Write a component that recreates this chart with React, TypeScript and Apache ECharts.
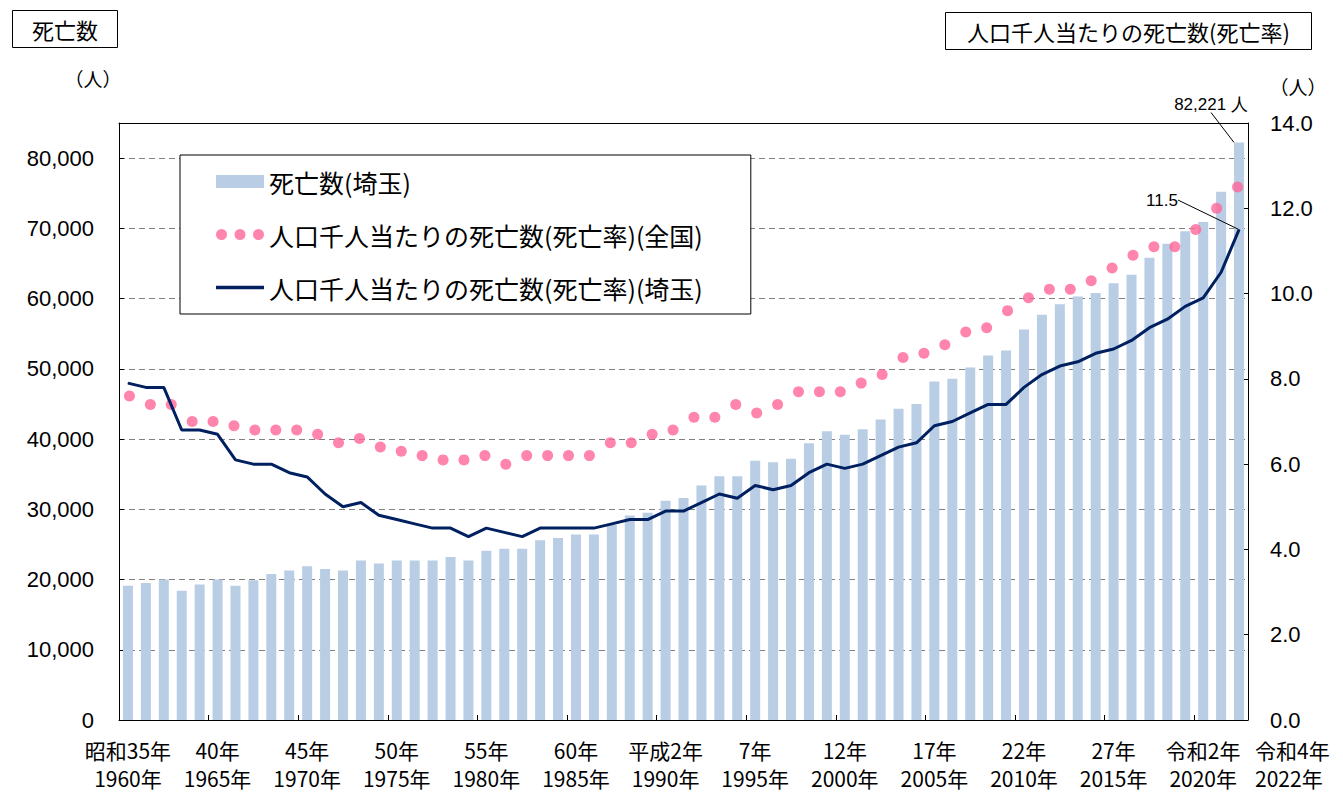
import React, { useEffect, useRef } from "react";
import * as echarts from "echarts";

// ---- Data ----
const years: string[] = [
  "1960", "1961", "1962", "1963", "1964", "1965", "1966", "1967", "1968", "1969",
  "1970", "1971", "1972", "1973", "1974", "1975", "1976", "1977", "1978", "1979",
  "1980", "1981", "1982", "1983", "1984", "1985", "1986", "1987", "1988", "1989",
  "1990", "1991", "1992", "1993", "1994", "1995", "1996", "1997", "1998", "1999",
  "2000", "2001", "2002", "2003", "2004", "2005", "2006", "2007", "2008", "2009",
  "2010", "2011", "2012", "2013", "2014", "2015", "2016", "2017", "2018", "2019",
  "2020", "2021", "2022",
];

// 死亡数(埼玉)
const deathsSaitama: number[] = [
  19100, 19500, 20000, 18400, 19300, 20000, 19100, 19900, 20800, 21300,
  21900, 21500, 21300, 22700, 22300, 22700, 22700, 22700, 23200, 22700,
  24100, 24400, 24400, 25600, 25900, 26400, 26400, 27800, 29100, 29500,
  31200, 31600, 33400, 34700, 34700, 36900, 36700, 37200, 39400, 41100,
  40600, 41400, 42800, 44300, 45000, 48200, 48600, 50200, 51900, 52600,
  55600, 57700, 59200, 60300, 60800, 62200, 63400, 65800, 67800, 69600,
  70900, 75200, 82221,
];

// 人口千人当たりの死亡数(死亡率)(埼玉)
const rateSaitama: number[] = [
  7.9, 7.8, 7.8, 6.8, 6.8, 6.7, 6.1, 6.0, 6.0, 5.8,
  5.7, 5.3, 5.0, 5.1, 4.8, 4.7, 4.6, 4.5, 4.5, 4.3,
  4.5, 4.4, 4.3, 4.5, 4.5, 4.5, 4.5, 4.6, 4.7, 4.7,
  4.9, 4.9, 5.1, 5.3, 5.2, 5.5, 5.4, 5.5, 5.8, 6.0,
  5.9, 6.0, 6.2, 6.4, 6.5, 6.9, 7.0, 7.2, 7.4, 7.4,
  7.8, 8.1, 8.3, 8.4, 8.6, 8.7, 8.9, 9.2, 9.4, 9.7,
  9.9, 10.5, 11.5,
];

// 人口千人当たりの死亡数(死亡率)(全国) — dots as drawn in the original
const rateNational: number[] = [
  7.6, 7.4, 7.4, 7.0, 7.0, 6.9, 6.8, 6.8, 6.8, 6.7,
  6.5, 6.6, 6.4, 6.3, 6.2, 6.1, 6.1, 6.2, 6.0, 6.2,
  6.2, 6.2, 6.2, 6.5, 6.5, 6.7, 6.8, 7.1, 7.1, 7.4,
  7.2, 7.4, 7.7, 7.7, 7.7, 7.9, 8.1, 8.5, 8.6, 8.8,
  9.1, 9.2, 9.6, 9.9, 10.1, 10.1, 10.3, 10.6, 10.9, 11.1,
  11.1, 11.5, 12.0, 12.5,
];

// Tick labels
const tickYears: string[] = [
  "1960", "1965", "1970", "1975", "1980", "1985", "1990",
  "1995", "2000", "2005", "2010", "2015", "2020", "2022",
];
const eraLabels: string[] = [
  "昭和35年", "40年", "45年", "50年", "55年", "60年", "平成2年",
  "7年", "12年", "17年", "22年", "27年", "令和2年", "令和4年",
];

const NAME_BAR = "死亡数(埼玉)";
const NAME_NAT = "人口千人当たりの死亡数(死亡率)(全国)";
const NAME_SAI = "人口千人当たりの死亡数(死亡率)(埼玉)";

const FONT_JP = '"Noto Sans CJK JP", "Noto Sans", sans-serif';
const FONT_NUM = '"Liberation Sans", Arial, sans-serif';

const BAR_COLOR = "#B9CDE5";
const DOT_COLOR = "#FF6699";
const LINE_COLOR = "#002060";

const dotsIcon =
  "path://M0,5.5a5.5,5.5 0 1,0 11,0a5.5,5.5 0 1,0 -11,0Z" +
  "M18.5,5.5a5.5,5.5 0 1,0 11,0a5.5,5.5 0 1,0 -11,0Z" +
  "M37,5.5a5.5,5.5 0 1,0 11,0a5.5,5.5 0 1,0 -11,0Z";
const lineIcon = "path://M0,0L48,0L48,3.4L0,3.4Z";

export default function App() {
  const ref = useRef<HTMLDivElement>(null);

  useEffect(() => {
    if (!ref.current) return;
    const chart = echarts.init(ref.current, null, { renderer: "svg" });
    const lastIdx = years.length - 1;
    const lastYear = years[lastIdx];

    const labelText = (v: string) => {
      const k = tickYears.indexOf(v);
      return k >= 0 ? `${eraLabels[k]}\n${v}年` : "";
    };
    const labelBase = {
      formatter: labelText,
      fontSize: 21,
      lineHeight: 28,
      margin: 16,
      color: "#000",
      fontFamily: FONT_JP,
    };

    const option: any = {
      animation: false,
      backgroundColor: "#ffffff",
      textStyle: { fontFamily: FONT_JP, color: "#000" },
      title: [
        {
          text: "死亡数",
          left: 12,
          top: 10,
          padding: [8, 20, 8, 20],
          borderColor: "#000",
          borderWidth: 1,
          textStyle: { fontSize: 22, fontWeight: "normal", color: "#000", fontFamily: FONT_JP },
        },
        {
          text: "人口千人当たりの死亡数(死亡率)",
          left: 945,
          top: 12,
          padding: [8, 22, 8, 22],
          borderColor: "#000",
          borderWidth: 1,
          textStyle: { fontSize: 22, fontWeight: "normal", color: "#000", fontFamily: FONT_JP },
        },
      ],
      legend: {
        left: 180,
        top: 155,
        orient: "vertical",
        padding: [14, 48, 14, 36],
        itemGap: 28,
        itemWidth: 48,
        itemHeight: 13,
        borderColor: "#000",
        borderWidth: 1,
        backgroundColor: "#fff",
        textStyle: { fontSize: 25, color: "#000", fontFamily: FONT_JP },
        data: [
          { name: NAME_BAR, icon: "rect" },
          { name: NAME_NAT, icon: dotsIcon },
          { name: NAME_SAI, icon: lineIcon },
        ],
      },
      grid: { left: 119, right: 95, top: 123, bottom: 73 },
      xAxis: [
        {
          type: "category",
          position: "bottom",
          boundaryGap: true,
          data: years,
          axisLine: { show: true, lineStyle: { color: "#000", width: 1 } },
          axisTick: {
            show: true,
            inside: true,
            length: 5,
            interval: (i: number) => i % 5 === 0,
            lineStyle: { color: "#000" },
          },
          axisLabel: {
            ...labelBase,
            interval: (_i: number, v: string) => v !== lastYear && tickYears.indexOf(v) >= 0,
          },
          splitLine: { show: false },
        },
        {
          type: "category",
          position: "top",
          boundaryGap: true,
          data: rateNational.map((_v, i) => String(i)),
          axisLine: { show: true, onZero: false, lineStyle: { color: "#000", width: 1 } },
          axisTick: { show: false },
          axisLabel: { show: false },
          splitLine: { show: false },
        },
        {
          // carries only the final year's label, placed just right of its bar
          type: "category",
          position: "bottom",
          boundaryGap: true,
          data: years.map((y) =>
            y === lastYear
              ? { value: y, textStyle: { align: "left", padding: [0, 0, 0, 16] } }
              : y
          ),
          axisLine: { show: false },
          axisTick: { show: false },
          axisLabel: {
            ...labelBase,
            interval: (_i: number, v: string) => v === lastYear,
          },
          splitLine: { show: false },
        },
      ],
      yAxis: [
        {
          type: "value",
          position: "left",
          min: 0,
          max: 85000,
          interval: 10000,
          name: "（人）",
          nameLocation: "end",
          nameGap: 35,
          nameTextStyle: { fontSize: 19, color: "#000", fontFamily: FONT_JP, padding: [0, 52, 0, 0] },
          axisLine: { show: true, lineStyle: { color: "#000", width: 1 } },
          axisTick: { show: true, inside: true, length: 5, lineStyle: { color: "#000" } },
          axisLabel: {
            showMaxLabel: false,
            formatter: (v: number) => v.toLocaleString("en-US"),
            fontSize: 22,
            fontFamily: FONT_NUM,
            color: "#000",
            margin: 25,
          },
          splitLine: { show: true, lineStyle: { color: "#808080", width: 1, type: [6, 4] } },
        },
        {
          type: "value",
          position: "right",
          min: 0,
          max: 14,
          interval: 2,
          name: "（人）",
          nameLocation: "end",
          nameGap: 27,
          nameTextStyle: { fontSize: 19, color: "#000", fontFamily: FONT_JP, padding: [0, 0, 0, 100] },
          axisLine: { show: true, lineStyle: { color: "#000", width: 1 } },
          axisTick: { show: true, inside: true, length: 6, lineStyle: { color: "#000" } },
          axisLabel: {
            formatter: (v: number) => v.toFixed(1),
            fontSize: 22,
            fontFamily: FONT_NUM,
            color: "#000",
            margin: 22,
          },
          splitLine: { show: false },
        },
      ],
      series: [
        {
          name: NAME_BAR,
          type: "bar",
          xAxisIndex: 0,
          yAxisIndex: 0,
          barWidth: 10,
          itemStyle: { color: BAR_COLOR },
          data: deathsSaitama.map((v, i) =>
            i === lastIdx
              ? { value: v, label: { show: true, formatter: `${v.toLocaleString("en-US")} 人` } }
              : v
          ),
          label: { show: false, fontSize: 17, fontFamily: FONT_NUM, color: "#000" },
          labelLine: { show: true, lineStyle: { color: "#000", width: 1 } },
          labelLayout: (p: any) =>
            p.dataIndex === lastIdx
              ? { x: 1211, y: 104, align: "center", verticalAlign: "middle" }
              : {},
          z: 2,
        },
        {
          name: NAME_NAT,
          type: "scatter",
          xAxisIndex: 1,
          yAxisIndex: 1,
          symbol: "circle",
          symbolSize: 11,
          itemStyle: { color: DOT_COLOR },
          data: rateNational,
          z: 3,
        },
        {
          name: NAME_SAI,
          type: "line",
          xAxisIndex: 0,
          yAxisIndex: 1,
          color: LINE_COLOR,
          lineStyle: { color: LINE_COLOR, width: 3 },
          itemStyle: { color: LINE_COLOR },
          symbol: "circle",
          symbolSize: 1,
          showSymbol: true,
          showAllSymbol: true,
          data: rateSaitama.map((v, i) =>
            i === lastIdx
              ? { value: v, label: { show: true, formatter: v.toFixed(1) } }
              : v
          ),
          label: { show: false, fontSize: 17, fontFamily: FONT_NUM, color: "#000" },
          labelLine: { show: true, lineStyle: { color: "#000", width: 1 } },
          labelLayout: (p: any) =>
            p.dataIndex === lastIdx
              ? { x: 1162, y: 200, align: "center", verticalAlign: "middle" }
              : {},
          z: 4,
        },
      ],
    };

    chart.setOption(option);
    return () => {
      chart.dispose();
    };
  }, []);

  return (
    <div
      ref={ref}
      style={{ position: "absolute", left: 0, top: 0, width: 1343, height: 793, background: "#fff" }}
    />
  );
}
